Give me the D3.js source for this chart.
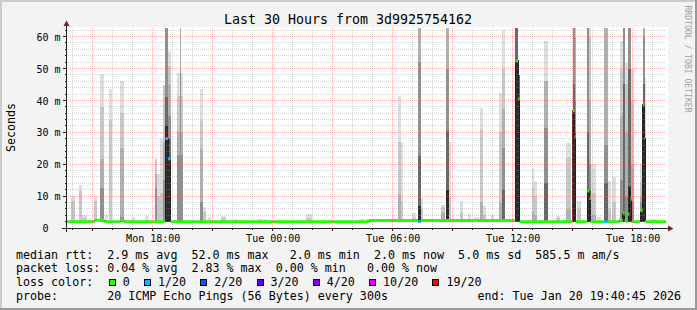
<!DOCTYPE html>
<html>
<head>
<meta charset="utf-8">
<script src="https://cdnjs.cloudflare.com/ajax/libs/d3/7.8.5/d3.min.js"></script>
<style>
  html, body { margin: 0; padding: 0; background: #f3f3f3; }
  svg { display: block; font-family: "DejaVu Sans Mono", monospace; }
  text { white-space: pre; }
</style>
</head>
<body>
<svg id="chart" width="697" height="310"></svg>
<script>
// smokeping latency graph, last 30 hours, one probe every 300s

const title = "Last 30 Hours from 3d9925754162";
const timeRange = ["Mon 13:40:45", "Tue 19:40:45"];
const yMax = 62.7; // ms at top of canvas
const yTicks = [0, 10, 20, 30, 40, 50, 60];

// smoke columns: [start, minutes, top (ms) of each shade, lightest first]
// 70 = off the top of the chart
const smoke = [
  ["Mon 13:55", 12, 10.0, 8.6],
  ["Mon 14:20", 8, 13.4, 11.7],
  ["Mon 14:28", 15, 4.0, 3.0],
  ["Mon 15:05", 8, 10.0, 8.5],
  ["Mon 15:23", 12, 48.2, 38.0, 21.6, 12.5],
  ["Mon 15:36", 10, 4.0],
  ["Mon 15:49", 9, 43.7, 34.0],
  ["Mon 16:22", 12, 46.0, 36.0, 25.0, 3.5],
  ["Mon 16:58", 10, 3.3],
  ["Mon 17:37", 12, 3.7],
  ["Mon 18:06", 8, 21.7, 21.7, 17.0, 12.5],
  ["Mon 18:14", 8, 16.8, 10.0],
  ["Mon 18:22", 8, 27.8, 11.0],
  ["Mon 18:30", 8, 44.7, 44.7, 27.0, 15.0],
  ["Mon 18:38", 8, 70, 70, 70, 70, 41.0, 32.0],
  ["Mon 18:46", 8, 55.5, 50.8, 45.0, 35.0, 28.0, 21.7],
  ["Mon 19:14", 18, 48.7, 41.4, 30.0, 23.0],
  ["Mon 19:22", 4, 70, 70, 70, 50.0],
  ["Mon 20:22", 8, 43.7, 33.8, 25.2, 8.0],
  ["Mon 20:30", 10, 6.6, 5.0],
  ["Mon 20:46", 8, 3.3],
  ["Mon 21:26", 13, 3.9, 3.0],
  ["Mon 22:04", 8, 2.8],
  ["Mon 23:13", 15, 2.8],
  ["Mon 23:31", 10, 2.8],
  ["Tue 00:22", 12, 2.6],
  ["Tue 01:22", 12, 2.6],
  ["Tue 01:39", 20, 4.4, 3.2],
  ["Tue 03:10", 12, 2.6],
  ["Tue 03:46", 5, 2.5],
  ["Tue 04:19", 15, 2.7],
  ["Tue 04:40", 18, 2.8],
  ["Tue 05:10", 18, 2.8],
  ["Tue 06:16", 8, 41.4, 27.0, 10.6],
  ["Tue 06:24", 8, 27.0, 8.0],
  ["Tue 06:59", 10, 4.6, 3.0],
  ["Tue 07:16", 8, 70, 70, 70, 52.0, 22.6, 7.0],
  ["Tue 07:24", 8, 9.5, 6.0],
  ["Tue 08:24", 12, 7.2, 6.5, 5.0],
  ["Tue 08:40", 9, 70, 70, 70, 50.0, 30.3, 12.0],
  ["Tue 08:49", 6, 27.0, 10.0],
  ["Tue 09:22", 10, 8.6, 5.0],
  ["Tue 09:46", 8, 4.4],
  ["Tue 10:04", 15, 3.5],
  ["Tue 10:21", 9, 37.7, 30.9, 8.0],
  ["Tue 10:30", 10, 6.8, 4.0],
  ["Tue 10:54", 10, 4.0],
  ["Tue 11:20", 8, 42.4, 30.0, 8.0],
  ["Tue 11:28", 10, 62.0, 50.0, 37.3, 25.0, 12.0],
  ["Tue 12:08", 8, 70, 70, 70, 70, 70, 52.4],
  ["Tue 12:16", 5, 48.0, 48.0, 48.0, 48.0, 48.0, 40.5],
  ["Tue 12:57", 8, 18.5, 12.6, 5.0],
  ["Tue 13:05", 8, 14.7, 10.0, 4.0],
  ["Tue 13:22", 8, 2.6],
  ["Tue 13:34", 12, 58.6, 46.0, 46.0, 31.3, 14.0],
  ["Tue 14:09", 13, 3.7, 3.0],
  ["Tue 14:39", 15, 26.7, 22.0, 6.0],
  ["Tue 15:00", 6, 70, 70, 70, 70, 45.0, 36.7],
  ["Tue 15:06", 3, 70, 70, 60.0, 40.0, 30.0, 28.6],
  ["Tue 15:14", 12, 8.5, 6.0],
  ["Tue 15:44", 6, 70, 70, 70, 70, 30.0, 11.6],
  ["Tue 15:50", 4, 70, 60.0, 40.0, 20.0, 12.0, 9.2],
  ["Tue 15:54", 15, 20.0, 11.0, 4.0],
  ["Tue 16:13", 12, 3.3],
  ["Tue 16:34", 12, 70, 70, 70, 26.0, 14.0],
  ["Tue 16:46", 8, 14.7, 6.0],
  ["Tue 16:59", 10, 16.0, 8.0],
  ["Tue 17:22", 8, 58.6, 50.0, 35.0, 15.0],
  ["Tue 17:30", 8, 70, 70, 70, 70, 45.0, 4.7],
  ["Tue 17:38", 8, 51.8, 45.0, 30.0, 10.0],
  ["Tue 17:46", 10, 70, 70, 70, 70, 50.0, 13.2],
  ["Tue 17:56", 8, 50.0, 40.0, 20.0, 8.0],
  ["Tue 18:22", 8, 20.0, 14.5, 10.0, 8.0, 6.0, 5.5],
  ["Tue 18:30", 7, 70, 70, 70, 60.0, 45.0, 38.7],
  ["Tue 18:37", 3, 47.0, 30.0],
  ["Tue 18:53", 20, 2.8]
];

// median rtt as steps: [from, ms, loss colour index]
const median = [
  ["Mon 13:40:45", 2.0, 0],
  ["Mon 15:05", 2.5, 0],
  ["Mon 15:35", 2.0, 0],
  ["Mon 16:22", 2.5, 0],
  ["Mon 16:34", 2.0, 0],
  ["Mon 18:38", 28.0, 1],
  ["Mon 18:46", 21.7, 1],
  ["Mon 18:54", 2.0, 0],
  ["Tue 04:50", 2.35, 0],
  ["Tue 07:16", 2.0, 1],
  ["Tue 07:24", 2.35, 0],
  ["Tue 12:08", 52.4, 0],
  ["Tue 12:16", 40.5, 0],
  ["Tue 12:21", 2.0, 0],
  ["Tue 15:00", 36.7, 0],
  ["Tue 15:06", 28.6, 0],
  ["Tue 15:09", 2.0, 0],
  ["Tue 15:44", 11.6, 0],
  ["Tue 15:50", 9.2, 0],
  ["Tue 15:54", 2.0, 0],
  ["Tue 16:34", 2.0, 1],
  ["Tue 16:44", 2.0, 0],
  ["Tue 17:20", 2.5, 0],
  ["Tue 17:30", 4.7, 0],
  ["Tue 17:36", 2.5, 0],
  ["Tue 17:40", 2.0, 0],
  ["Tue 17:46", 4.4, 0],
  ["Tue 17:50", 13.2, 0],
  ["Tue 17:53", 9.0, 0],
  ["Tue 17:57", 2.0, 0],
  ["Tue 18:22", 5.5, 0],
  ["Tue 18:30", 38.7, 0],
  ["Tue 18:35", 28.0, 0],
  ["Tue 18:37", 2.0, 0]
];

const lossLabels = ["0", "1/20", "2/20", "3/20", "4/20", "10/20", "19/20"];
const lossColors = ["#26ff00", "#00b8ff", "#0059ff", "#5e00ff", "#7e00ff", "#dd00ff", "#ff0000"];

const legendLines = [
  "median rtt:  2.9 ms avg  52.0 ms max   2.0 ms min  2.0 ms now  5.0 ms sd  585.5 m am/s",
  "packet loss: 0.04 % avg  2.83 % max  0.00 % min   0.00 % now"
];
const probeText = "probe:       20 ICMP Echo Pings (56 Bytes) every 300s";
const endText = "end: Tue Jan 20 19:40:45 2026";

const shades = ["#dedede", "#c8c8c8", "#b0b0b0", "#909090", "#676767", "#2c2c2c"];

// ---------------------------------------------------------------

const days = { Mon: 19, Tue: 20 };
function parseTime(s) {
  const [d, hm] = s.split(" ");
  const [h, m, sec] = hm.split(":").map(Number);
  return new Date(2026, 0, days[d], h, m, sec || 0);
}

const W = 697, H = 310;
const plot = { left: 66.3, right: 666.3, top: 28, bottom: 228 };
const mono = "DejaVu Sans Mono, monospace";

const svg = d3.select("#chart");

const t0 = parseTime(timeRange[0]), t1 = parseTime(timeRange[1]);
const x = d3.scaleTime().domain([t0, t1]).range([plot.left, plot.right]);
const y = d3.scaleLinear().domain([0, yMax]).range([plot.bottom, plot.top]);
const snap = v => Math.floor(v) + 0.5;

// background and frame
svg.append("rect").attr("width", W).attr("height", H).attr("fill", "#f3f3f3");
svg.append("rect").attr("x", 0).attr("y", 0).attr("width", W).attr("height", 2).attr("fill", "#cbcbcb");
svg.append("rect").attr("x", 0).attr("y", 0).attr("width", 2).attr("height", H).attr("fill", "#cbcbcb");
svg.append("rect").attr("x", 0).attr("y", H - 2).attr("width", W).attr("height", 2).attr("fill", "#999");
svg.append("rect").attr("x", W - 2).attr("y", 0).attr("width", 2).attr("height", H).attr("fill", "#999");

// canvas
svg.append("rect")
  .attr("x", 66).attr("y", plot.top - 1)
  .attr("width", 602).attr("height", plot.bottom - plot.top + 1)
  .attr("fill", "#fff");

svg.append("clipPath").attr("id", "clip")
  .append("rect")
  .attr("x", plot.left).attr("y", plot.top)
  .attr("width", plot.right - plot.left).attr("height", plot.bottom - plot.top);

const g = svg.append("g").attr("clip-path", "url(#clip)");

// smoke
const smokeRects = [];
smoke.forEach(col => {
  const start = parseTime(col[0]);
  const stop = d3.timeMinute.offset(start, col[1]);
  col.slice(2).forEach((top, i) => smokeRects.push({ start, stop, top, shade: i }));
});

g.selectAll("rect.smoke")
  .data(smokeRects)
  .join("rect")
  .attr("class", "smoke")
  .attr("x", d => x(d.start))
  .attr("width", d => x(d.stop) - x(d.start))
  .attr("y", d => y(d.top))
  .attr("height", d => y(1.9) - y(d.top))
  .attr("fill", d => shades[d.shade])
  .attr("shape-rendering", "crispEdges");

// grid
const grid = svg.append("g").attr("shape-rendering", "crispEdges").attr("stroke-dasharray", "1,1");
const minorX = x.ticks(d3.timeHour.every(1)).filter(d => d.getHours() % 3);
const majorX = x.ticks(d3.timeHour.every(3));
const minorY = d3.range(2, yMax, 2).filter(v => v % 10);
const majorY = d3.range(10, yMax, 10);

grid.selectAll("line.mx").data(minorX).join("line")
  .attr("x1", d => snap(x(d))).attr("x2", d => snap(x(d)))
  .attr("y1", plot.top).attr("y2", plot.bottom)
  .attr("stroke", "rgba(150,150,150,0.4)");
grid.selectAll("line.my").data(minorY).join("line")
  .attr("x1", plot.left).attr("x2", plot.right)
  .attr("y1", d => snap(y(d))).attr("y2", d => snap(y(d)))
  .attr("stroke", "rgba(150,150,150,0.4)");
grid.selectAll("line.Mx").data(majorX).join("line")
  .attr("x1", d => snap(x(d))).attr("x2", d => snap(x(d)))
  .attr("y1", plot.top).attr("y2", plot.bottom)
  .attr("stroke", "rgba(255,90,90,0.5)");
grid.selectAll("line.My").data(majorY).join("line")
  .attr("x1", plot.left).attr("x2", plot.right)
  .attr("y1", d => snap(y(d))).attr("y2", d => snap(y(d)))
  .attr("stroke", "rgba(255,90,90,0.5)");

// median line, thin dark steps then loss coloured segments
const medSeg = median.map((m, i) => ({
  start: parseTime(m[0]),
  stop: i + 1 < median.length ? parseTime(median[i + 1][0]) : t1,
  v: m[1],
  loss: m[2]
}));
const medPts = medSeg.map(s => [s.start, s.v]).concat([[t1, medSeg[medSeg.length - 1].v]]);

g.append("path")
  .attr("d", d3.line().x(d => x(d[0])).y(d => y(d[1])).curve(d3.curveStepAfter)(medPts))
  .attr("fill", "none")
  .attr("stroke", "#202020")
  .attr("stroke-width", 1)
  .attr("shape-rendering", "crispEdges");

g.selectAll("line.med")
  .data(medSeg)
  .join("line")
  .attr("class", "med")
  .attr("x1", d => x(d.start)).attr("x2", d => x(d.stop))
  .attr("y1", d => y(d.v)).attr("y2", d => y(d.v))
  .attr("stroke", d => lossColors[d.loss])
  .attr("stroke-width", 2.8);

// axes lines, ticks and arrows
const axisColor = "#222";
svg.append("line").attr("x1", 62).attr("x2", 669).attr("y1", 228.5).attr("y2", 228.5)
  .attr("stroke", axisColor).attr("shape-rendering", "crispEdges");
svg.append("line").attr("x1", 66.5).attr("x2", 66.5).attr("y1", 232).attr("y2", 24)
  .attr("stroke", axisColor).attr("shape-rendering", "crispEdges");
svg.append("path").attr("d", "M668,225.5 L673.5,228.5 L668,231.5 Z").attr("fill", "#7f1f1f");
svg.append("path").attr("d", "M63.5,26 L66.5,20.5 L69.5,26 Z").attr("fill", "#7f1f1f");

const ticks = svg.append("g").attr("stroke", axisColor).attr("shape-rendering", "crispEdges");
ticks.selectAll("line.xt").data(x.ticks(d3.timeHour.every(1))).join("line")
  .attr("x1", d => snap(x(d))).attr("x2", d => snap(x(d)))
  .attr("y1", 228).attr("y2", d => d.getHours() % 3 ? 230 : 231);
ticks.selectAll("line.yt").data(d3.range(2, yMax, 2)).join("line")
  .attr("y1", d => snap(y(d))).attr("y2", d => snap(y(d)))
  .attr("x1", d => d % 10 ? 64.5 : 63).attr("x2", 66.5);

// axis labels via d3 axes
const xAxis = svg.append("g")
  .attr("transform", `translate(0,${plot.bottom})`)
  .call(d3.axisBottom(x).ticks(d3.timeHour.every(6)).tickFormat(d3.timeFormat("%a %H:%M")).tickSize(0));
xAxis.select(".domain").remove();
xAxis.attr("font-family", mono).attr("font-size", 10);
xAxis.selectAll("text").attr("y", 13.6).attr("dy", null).attr("fill", "#000");

const yAxis = svg.append("g")
  .attr("transform", "translate(60.5,0)")
  .call(d3.axisLeft(y).tickValues(yTicks).tickFormat(d => d ? d + " m" : "0  ").tickSize(0));
yAxis.select(".domain").remove();
yAxis.attr("font-family", mono).attr("font-size", 10);
yAxis.selectAll("text").attr("x", 0).attr("dy", null).attr("y", 3.6).attr("fill", "#000")
  .attr("xml:space", "preserve");

// titles
svg.append("text")
  .attr("x", 348).attr("y", 24)
  .attr("text-anchor", "middle")
  .attr("font-size", 13.3)
  .text(title);

svg.append("text")
  .attr("transform", "translate(15,127.5) rotate(-90)")
  .attr("text-anchor", "middle")
  .attr("font-size", 11.66)
  .text("Seconds");

svg.append("text")
  .attr("transform", "translate(685,59) rotate(90)")
  .attr("text-anchor", "middle")
  .attr("font-size", 8.1)
  .attr("fill", "#a0a0a0")
  .text("RRDTOOL / TOBI OETIKER");

// legend
const cw = 7.02;
const legend = svg.append("g").attr("font-size", 11.66).attr("fill", "#000");
legendLines.forEach((line, i) => {
  legend.append("text").attr("x", 16).attr("y", 258.5 + i * 13.7)
    .attr("xml:space", "preserve").text(line);
});
legend.append("text").attr("x", 16).attr("y", 285.9).text("loss color:");

let bx = 16 + 13 * cw + 1.5;
lossLabels.forEach((lab, i) => {
  legend.append("rect")
    .attr("x", bx + 0.5).attr("y", 279.5)
    .attr("width", 6).attr("height", 6)
    .attr("fill", lossColors[i]).attr("stroke", "#000")
    .attr("shape-rendering", "crispEdges");
  legend.append("text").attr("x", bx + 14).attr("y", 285.9).text(lab);
  bx += 14 + lab.length * cw + 14.2;
});

legend.append("text").attr("x", 16).attr("y", 299.6)
  .attr("xml:space", "preserve").text(probeText);
legend.append("text").attr("x", 681).attr("y", 299.6)
  .attr("text-anchor", "end").text(endText);
</script>
</body>
</html>
